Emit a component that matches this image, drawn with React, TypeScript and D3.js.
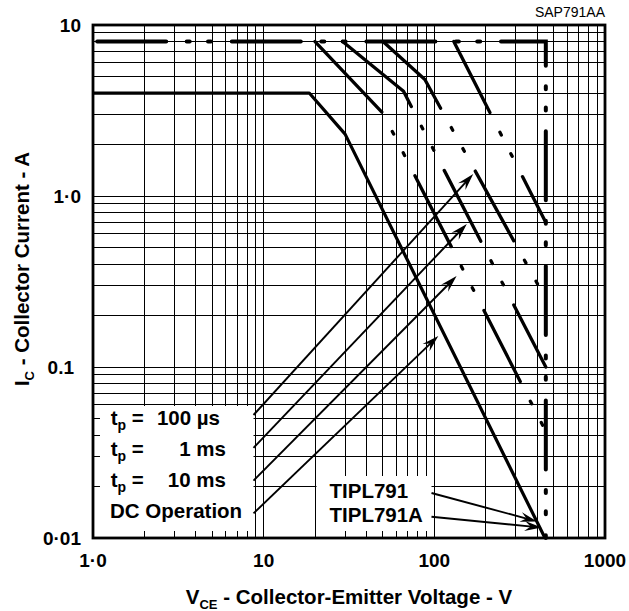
import React from 'react';
import * as d3 from 'd3';

// axis ticks and labels
const xTicks = [1, 10, 100, 1000];
const xTickLabels = ['1·0', '10', '100', '1000'];
const yTicks = [10, 1, 0.1, 0.01];
const yTickLabels = ['10', '1·0', '0.1', '0·01'];

// DC operation (solid)
const dcV = [1, 18.5, 30, 445];
const dcI = [4, 4, 2.3, 0.01];

// pulsed operation, t_p = 100 us / 1 ms / 10 ms, plus the unlabelled outer curve
const p100usV = [50, 88, 110, 450];
const p100usI = [8, 4.8, 3.2, 0.25];
const p1msV = [29, 66, 74, 450];
const p1msI = [8, 4.1, 3.27, 0.1];
const p10msV = [20, 50, 450];
const p10msI = [8, 3.05, 0.042];
const pOuterV = [130, 450];
const pOuterI = [8, 0.7];

// 8 A / 450 V limit
const limitV = [1, 450, 450];
const limitI = [8, 8, 0.01];

const legendValues = ['100 µs', '1 ms', '10 ms'];
const legendArrowV = [169, 155, 135, 105.5];
const legendArrowI = [1.345, 0.686, 0.34, 0.152];

const deviceLabels = ['TIPL791', 'TIPL791A'];
const deviceArrowV = [400, 425];
const deviceArrowI = [0.0125, 0.0115];

const W = 629, H = 611;
const left = 93, right = 605, top = 25, bottom = 538;
const font = '"Liberation Sans", Arial, Helvetica, sans-serif';

const x = d3.scaleLog().domain([1, 1000]).range([left, right]);
const y = d3.scaleLog().domain([0.01, 10]).range([bottom, top]);

const pts = (vs: number[], is: number[]) => vs.map((v, i) => [v, is[i]]);
const line = d3.line<number[]>().x(d => x(d[0])).y(d => y(d[1]));
const pixLen = (p: number[][]) =>
    d3.sum(p.slice(1), (d, i) => Math.hypot(x(d[0]) - x(p[i][0]), y(d[1]) - y(p[i][1])));

const pulseDash = [79.7, 22.1, 3, 21, 3, 22.7];
const pulseDasharray = (p: number[][]) => {
    // first long dash runs to the last knee
    let first = pulseDash[0];
    if (p.length > 2) first = pixLen(p.slice(0, p.length - 1)) - 1.6;
    let arr = [first, ...pulseDash.slice(1)];
    for (let k = 0; k < 6; k++) arr = arr.concat(pulseDash);
    return arr.join(' ');
};

const Arrow = ({x1, y1, x2, y2}: {x1: number, y1: number, x2: number, y2: number}) => {
    let a = Math.atan2(y2 - y1, x2 - x1);
    let c = Math.cos(a), s = Math.sin(a);
    let P = (u: number, v: number) => `${x2 + u * c - v * s},${y2 + u * s + v * c}`;
    return <g>
        <line x1={x1} y1={y1} x2={x2 - 10 * c} y2={y2 - 10 * s} stroke="#000" strokeWidth={1.9}/>
        <path d={`M${P(0, 0)}L${P(-17, -5)}L${P(-11, 0)}L${P(-17, 5)}Z`} fill="#000"/>
    </g>;
};

export default function App() {
    let xGrid = x.ticks();
    let yGrid = y.ticks();
    let pulses = [pts(p100usV, p100usI), pts(p1msV, p1msI), pts(p10msV, p10msI), pts(pOuterV, pOuterI)];

    return (
        <svg width={W} height={H} style={{position: 'absolute', left: 0, top: 0, background: '#fff'}}
             fontFamily={font}>
            <rect width={W} height={H} fill="#fff"/>
            <text x={605} y={17} fontSize={14} textAnchor="end">SAP791AA</text>

            <g className="grid" stroke="#000" strokeWidth={1} shapeRendering="crispEdges">
                {xGrid.map((t, i) => <line key={i} x1={x(t)} x2={x(t)} y1={top} y2={bottom}/>)}
                {yGrid.map((t, i) => <line key={i} x1={left} x2={right} y1={y(t)} y2={y(t)}/>)}
            </g>

            {/* label boxes blank out the grid */}
            <rect x={94.5} y={406} width={159} height={131} fill="#fff"/>
            <rect x={316.5} y={476} width={115} height={61} fill="#fff"/>

            <g stroke="#000" strokeWidth={1} shapeRendering="crispEdges">
                {xGrid.map((t, i) => <line key={i} x1={x(t)} x2={x(t)} y1={bottom} y2={bottom - 7}/>)}
                {yGrid.map((t, i) => <line key={i} x1={left} x2={left + 7} y1={y(t)} y2={y(t)}/>)}
            </g>

            <rect x={left} y={top} width={right - left} height={bottom - top} fill="none" stroke="#000" strokeWidth={2.8}/>

            {/* limit line */}
            <path d={line(pts(limitV, limitI)) || ''} fill="none" stroke="#000" strokeWidth={4}
                  strokeDasharray="69 20.5 3 18.3 3 20.8" strokeDashoffset={-4.2} strokeLinecap="round"/>

            {pulses.map((p, i) =>
                <path key={i} d={line(p) || ''} fill="none" stroke="#000" strokeWidth={3.3}
                      strokeLinecap="round" strokeLinejoin="round" strokeDasharray={pulseDasharray(p)}/>
            )}

            <path d={line(pts(dcV, dcI)) || ''} fill="none" stroke="#000" strokeWidth={3.2} strokeLinejoin="round"/>

            {/* tick labels */}
            <g fontSize={19} fontWeight="bold">
                {yTicks.map((t, i) =>
                    <text key={i} x={t === 0.1 ? 74 : 81} y={y(t)} dy="0.36em" textAnchor="end">{yTickLabels[i]}</text>)}
                {xTicks.map((t, i) =>
                    <text key={i} x={x(t)} y={567} textAnchor="middle">{xTickLabels[i]}</text>)}
            </g>

            <text x={(left + right) / 2} y={604} fontSize={20.5} fontWeight="bold" textAnchor="middle">
                V<tspan fontSize={13} dy={5}>CE</tspan><tspan dy={-5}> - Collector-Emitter Voltage - V</tspan>
            </text>
            <text transform="translate(28.5,269) rotate(-90)" fontSize={20.5} fontWeight="bold" textAnchor="middle">
                I<tspan fontSize={13} dy={5}>C</tspan><tspan dy={-5}> - Collector Current - A</tspan>
            </text>

            {/* legend */}
            <g fontSize={20.5} fontWeight="bold">
                {legendValues.map((v, i) => <g key={i}>
                    <text x={110.7} y={425 + i * 31.1}>t<tspan fontSize={14} dy={5}>p</tspan><tspan dy={-5}> =</tspan></text>
                    <text x={i === 0 ? 220 : 226} y={425 + i * 31.1} textAnchor="end">{v}</text>
                </g>)}
                <text x={110} y={425 + 3 * 31.1}>DC Operation</text>
                {deviceLabels.map((d, i) =>
                    <text key={i} x={329.5} y={498 + i * 23.7}>{d}</text>)}
            </g>

            {legendArrowV.map((v, i) =>
                <Arrow key={i} x1={253.5} y1={415 + i * 32.8} x2={x(v)} y2={y(legendArrowI[i])}/>)}
            {deviceArrowV.map((v, i) =>
                <Arrow key={i} x1={431.5} y1={493 + i * 23.7} x2={x(v)} y2={y(deviceArrowI[i])}/>)}
        </svg>
    );
}
